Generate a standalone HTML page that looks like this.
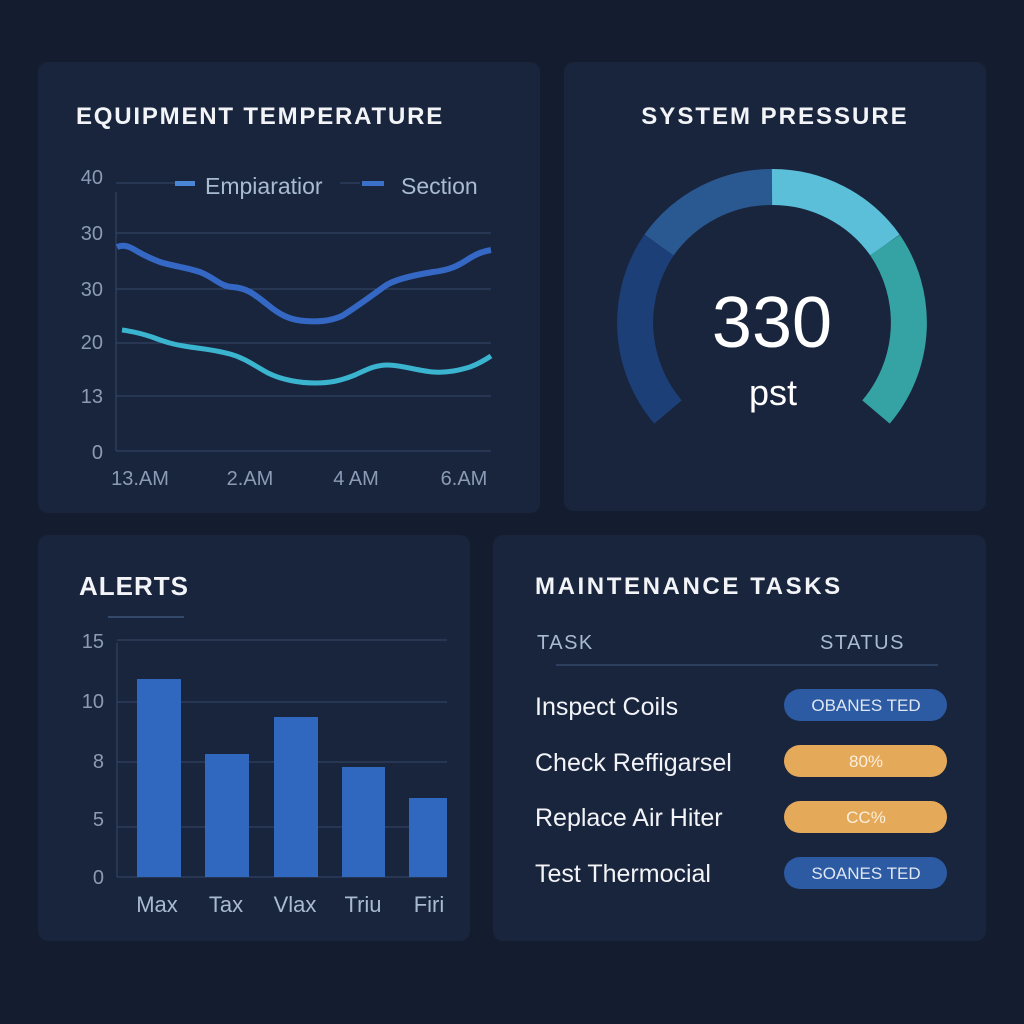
<!DOCTYPE html>
<html><head><meta charset="utf-8"><style>
html,body{margin:0;padding:0;background:#141d2f;}
svg{display:block;font-family:"Liberation Sans",sans-serif;}
</style></head><body>
<svg width="1024" height="1024" viewBox="0 0 1024 1024" xmlns="http://www.w3.org/2000/svg">
<rect width="1024" height="1024" fill="#141d2f"/>
<rect x="38" y="62" width="502" height="451" rx="10" fill="#19253c"/>
<rect x="564" y="62" width="422" height="449" rx="10" fill="#19253c"/>
<rect x="38" y="535" width="432" height="406" rx="10" fill="#19253c"/>
<rect x="493" y="535" width="493" height="406" rx="10" fill="#19253c"/>

<!-- Panel 1 -->
<text x="76" y="124" fill="#f2f4f8" font-size="24" font-weight="bold" letter-spacing="1.8">EQUIPMENT TEMPERATURE</text>
<g stroke="#34486a" stroke-width="1">
<line x1="116" y1="183" x2="175" y2="183"/><line x1="340" y1="183" x2="360" y2="183"/>
<line x1="116" y1="233" x2="491" y2="233"/>
<line x1="116" y1="289" x2="491" y2="289"/>
<line x1="116" y1="343" x2="491" y2="343"/>
<line x1="116" y1="396" x2="491" y2="396"/>
<line x1="116" y1="451" x2="491" y2="451"/>
<line x1="116" y1="192" x2="116" y2="451"/>
</g>
<rect x="175" y="181" width="20" height="5" fill="#4a86d4"/>
<rect x="362" y="181" width="22" height="5" fill="#3a70c8"/>
<text x="205" y="194" fill="#a9bad3" font-size="23">Empiaratior</text>
<text x="401" y="194" fill="#a9bad3" font-size="23">Section</text>
<g fill="#8b9bb6" font-size="20" text-anchor="end">
<text x="103" y="184">40</text><text x="103" y="240">30</text><text x="103" y="296">30</text>
<text x="103" y="349">20</text><text x="103" y="403">13</text><text x="103" y="459">0</text>
</g>
<g fill="#8b9bb6" font-size="20" text-anchor="middle">
<text x="140" y="485">13.AM</text><text x="250" y="485">2.AM</text><text x="356" y="485">4 AM</text><text x="464" y="485">6.AM</text>
</g>
<path d="M117,247 C122,245 127,245 135,250 C145,256 152,259 160,262 C172,266 185,267 200,272 C215,278 220,286 232,287 C248,288 255,295 268,305 C280,315 290,320 305,321 C320,322 330,321 342,316 C358,306 370,297 385,286 C395,279 415,275 433,272 C450,270 458,266 470,258 C478,253 485,251 491,250" fill="none" stroke="#3468c4" stroke-width="6"/>
<path d="M122,330 C130,331 140,333 152,337 C165,342 175,345 190,347 C205,349 215,350 230,354 C245,358 255,366 268,373 C282,380 300,383 315,383 C330,383 340,381 355,375 C368,369 375,365 388,365 C400,365 420,371 433,372 C448,373 460,370 470,367 C478,364 485,360 491,356" fill="none" stroke="#3bb4d0" stroke-width="5"/>

<!-- Panel 2 -->
<text x="775" y="124" fill="#f2f4f8" font-size="24" font-weight="bold" letter-spacing="2" text-anchor="middle">SYSTEM PRESSURE</text>
<g fill="none" stroke-width="36">
<path d="M668,412 A138,138 0 0 1 659,245" stroke="#1d3f78"/>
<path d="M659,245 A138,138 0 0 1 772,187" stroke="#2a5891"/>
<path d="M772,187 A138,138 0 0 1 885,245" stroke="#5bbfd9"/>
<path d="M885,245 A138,138 0 0 1 876,412" stroke="#35a3a3"/>
</g>
<text x="772" y="347" fill="#ffffff" font-size="72" text-anchor="middle">330</text>
<text x="773" y="405" fill="#ffffff" font-size="36" text-anchor="middle">pst</text>

<!-- Panel 3 -->
<text x="79" y="595" fill="#f2f4f8" font-size="26" font-weight="bold" letter-spacing="1">ALERTS</text>
<line x1="108" y1="617" x2="184" y2="617" stroke="#34486a" stroke-width="2"/>
<g stroke="#34486a" stroke-width="1">
<line x1="117" y1="640" x2="447" y2="640"/><line x1="117" y1="702" x2="447" y2="702"/>
<line x1="117" y1="762" x2="447" y2="762"/><line x1="117" y1="827" x2="447" y2="827"/>
<line x1="117" y1="877" x2="447" y2="877"/><line x1="117" y1="643" x2="117" y2="877"/>
</g>
<g fill="#3068c0">
<rect x="137" y="679" width="44" height="198"/>
<rect x="205" y="754" width="44" height="123"/>
<rect x="274" y="717" width="44" height="160"/>
<rect x="342" y="767" width="43" height="110"/>
<rect x="409" y="798" width="38" height="79"/>
</g>
<g fill="#8b9bb6" font-size="20" text-anchor="end">
<text x="104" y="648">15</text><text x="104" y="708">10</text><text x="104" y="768">8</text>
<text x="104" y="826">5</text><text x="104" y="884">0</text>
</g>
<g fill="#a9bad3" font-size="22" text-anchor="middle">
<text x="157" y="912">Max</text><text x="226" y="912">Tax</text><text x="295" y="912">Vlax</text><text x="363" y="912">Triu</text><text x="429" y="912">Firi</text>
</g>

<!-- Panel 4 -->
<text x="535" y="594" fill="#f2f4f8" font-size="24" font-weight="bold" letter-spacing="2.6">MAINTENANCE TASKS</text>
<text x="537" y="649" fill="#a9bad3" font-size="20" letter-spacing="1.5">TASK</text>
<text x="820" y="649" fill="#a9bad3" font-size="20" letter-spacing="1.5">STATUS</text>
<line x1="556" y1="665" x2="938" y2="665" stroke="#34486a" stroke-width="1.5"/>
<g fill="#f2f4f8" font-size="25">
<text x="535" y="715">Inspect Coils</text>
<text x="535" y="771">Check Reffigarsel</text>
<text x="535" y="826">Replace Air Hiter</text>
<text x="535" y="882">Test Thermocial</text>
</g>
<rect x="784" y="689" width="163" height="32" rx="16" fill="#2c5aa3"/>
<rect x="784" y="745" width="163" height="32" rx="16" fill="#e5a95a"/>
<rect x="784" y="801" width="163" height="32" rx="16" fill="#e5a95a"/>
<rect x="784" y="857" width="163" height="32" rx="16" fill="#2c5aa3"/>
<g font-size="17" text-anchor="middle">
<text x="866" y="711" fill="#dfe7f3">OBANES TED</text>
<text x="866" y="767" fill="#fbefdc">80%</text>
<text x="866" y="823" fill="#fbefdc">CC%</text>
<text x="866" y="879" fill="#dfe7f3">SOANES TED</text>
</g>
</svg>
</body></html>
